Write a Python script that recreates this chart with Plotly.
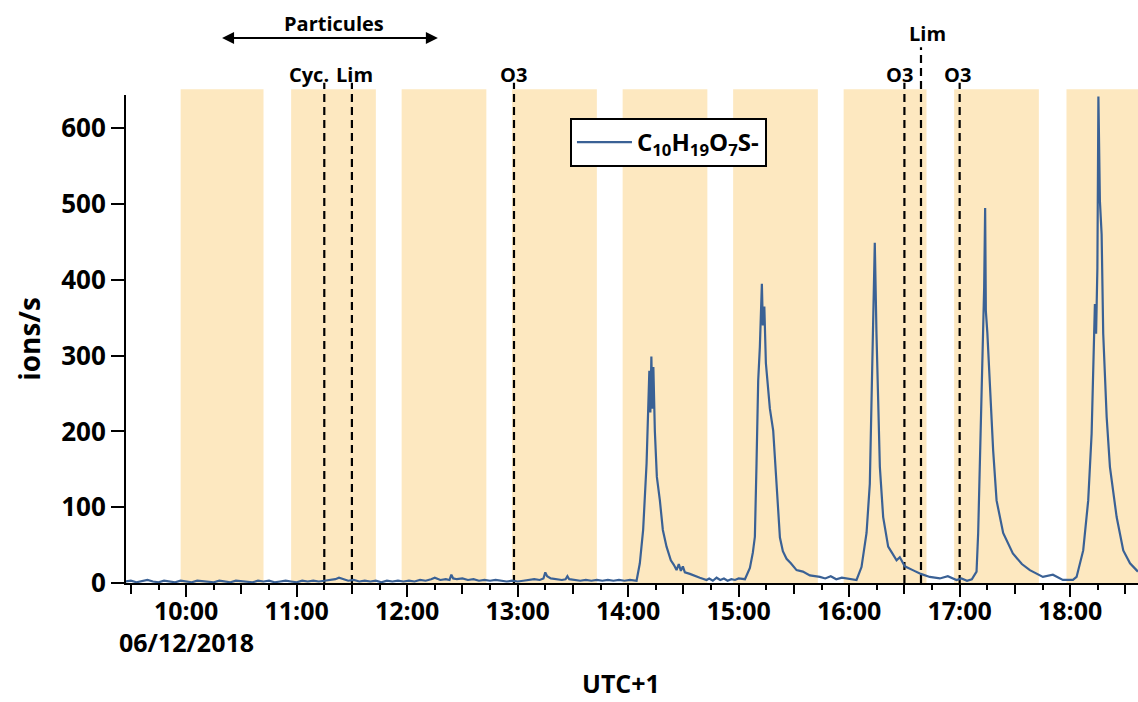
import plotly.graph_objects as go

DAY = "2018-12-06 "

# baseline before the first ozonolysis peak
base_clock = ["09:27", "09:30", "09:33", "09:36", "09:39", "09:42", "09:45", "09:48", "09:51", "09:54",
              "09:57", "10:00", "10:03", "10:06", "10:09", "10:12", "10:15", "10:18", "10:21", "10:24",
              "10:27", "10:30", "10:33", "10:36", "10:39", "10:42", "10:45", "10:48", "10:51", "10:54",
              "10:57", "11:00", "11:03", "11:06", "11:09", "11:12", "11:15", "11:18", "11:21", "11:23",
              "11:25", "11:28", "11:31", "11:34", "11:37", "11:40", "11:43", "11:46", "11:49", "11:52",
              "11:55", "11:58", "12:01", "12:04", "12:07", "12:10", "12:13", "12:15", "12:18", "12:21",
              "12:23", "12:24", "12:25", "12:27", "12:30", "12:33", "12:36", "12:39", "12:42", "12:45",
              "12:48", "12:51", "12:54", "12:57", "13:00", "13:03", "13:06", "13:09", "13:12", "13:14",
              "13:15", "13:16", "13:18", "13:21", "13:24", "13:26", "13:27", "13:28", "13:31", "13:34",
              "13:37", "13:40", "13:43", "13:46", "13:49", "13:52", "13:55", "13:58", "14:01", "14:03"]
base_ions = [2, 3, 1, 2, 4, 2, 1, 3, 2, 1,
             3, 2, 1, 3, 2, 2, 1, 3, 2, 1,
             3, 2, 2, 1, 3, 2, 3, 1, 2, 3,
             2, 1, 3, 2, 3, 2, 3, 4, 5, 7,
             5, 3, 4, 2, 3, 2, 3, 1, 3, 2,
             3, 2, 3, 2, 4, 3, 5, 7, 4, 5,
             4, 11, 6, 5, 6, 4, 5, 3, 4, 3,
             4, 3, 2, 3, 2, 3, 4, 5, 4, 6,
             14, 9, 6, 5, 4, 5, 9, 5, 4, 3,
             4, 3, 4, 3, 4, 3, 4, 3, 4, 3]

peak1_clock = ["14:04:34", "14:06:20", "14:08:08", "14:10:00", "14:10:51", "14:11:30", "14:12:03",
               "14:12:36", "14:13:08", "14:13:41", "14:14:30", "14:15:35", "14:17:13", "14:18:50",
               "14:20:50", "14:23:10", "14:24:48", "14:26:16", "14:27:30", "14:28:36", "14:29:42",
               "14:30:47", "14:33:30", "14:36:12", "14:38:55", "14:42:34", "14:44:00", "14:46:00",
               "14:48:00", "14:50:00", "14:52:00", "14:54:00", "14:56:00", "14:58:00", "15:00:00"]
peak1_ions = [3, 26, 70, 158, 245, 280, 225,
              299, 230, 285, 200, 140, 109, 70,
              48, 30, 24, 17, 25, 16, 22,
              14, 12, 9, 7, 4, 6, 3,
              7, 4, 6, 3, 5, 4, 6]

peak2_clock = ["15:03:24", "15:06:06", "15:07:42", "15:08:48", "15:09:42", "15:10:36", "15:11:30",
               "15:12:03", "15:12:36", "15:13:08", "15:13:56", "15:14:47", "15:15:52", "15:16:57",
               "15:18:45", "15:20:36", "15:22:24", "15:24:00", "15:26:00", "15:28:20", "15:31:26",
               "15:34:52", "15:38:40", "15:44:06", "15:47:00", "15:50:00", "15:53:00", "15:56:00",
               "15:59:00", "16:02:00"]
peak2_ions = [5, 20, 40, 61, 158, 267, 311,
              350, 395, 340, 365, 290, 260, 230,
              201, 135, 60, 42, 32, 26, 17,
              15, 10, 8, 6, 9, 5, 7,
              6, 5]

peak3_clock = ["16:04:00", "16:06:42", "16:09:26", "16:11:13", "16:12:08", "16:13:00", "16:13:55",
               "16:14:50", "16:15:44", "16:16:40", "16:18:28", "16:21:11", "16:23:12", "16:25:44",
               "16:27:30", "16:30:13", "16:34:34", "16:38:55", "16:43:47", "16:49:14", "16:53:34",
               "16:58:18", "17:01:00", "17:04:00"]
peak3_ions = [4, 21, 66, 131, 241, 372, 449,
              329, 219, 153, 87, 48, 40, 30,
              34, 22, 17, 12, 8, 6, 9,
              4, 6, 3]

peak4_clock = ["17:06:36", "17:09:10", "17:10:03", "17:10:58", "17:11:53", "17:12:45", "17:13:18",
               "17:13:50", "17:14:13", "17:15:02", "17:16:24", "17:18:11", "17:20:02", "17:23:37",
               "17:28:53", "17:33:46", "17:38:07", "17:45:12", "17:50:38", "17:56:02", "18:01:30"]
peak4_ions = [5, 15, 66, 153, 263, 350, 390,
              495, 359, 330, 263, 175, 109, 66,
              39, 25, 17, 8, 11, 4, 4]

peak5_clock = ["18:03:29", "18:07:05", "18:09:48", "18:11:39", "18:12:53", "18:13:26", "18:14:05",
               "18:14:47", "18:15:20", "18:16:09", "18:17:05", "18:17:57", "18:19:49", "18:21:36",
               "18:25:14", "18:28:50", "18:32:30", "18:34:38", "18:36:48"]
peak5_ions = [8, 43, 109, 197, 307, 368, 329,
              416, 642, 504, 460, 329, 219, 153,
              87, 43, 26, 20, 15]

# light-on periods (shaded)
band_start = ["09:57", "10:57", "11:57", "12:57", "13:57", "14:57", "15:57", "16:57", "17:58"]
band_end = ["10:42", "11:43", "12:43", "13:43", "14:43", "15:43", "16:42", "17:43", "18:37"]

# injections (dashed lines)
event_clock = ["11:15", "11:30", "12:58", "16:30", "16:39", "17:00"]
event_label = ["Cyc.", "Lim", "O3", "O3", "Lim", "O3"]
label_clock = ["11:06:40", "11:31:30", "12:58:00", "16:27:30", "16:42:30", "16:58:48"]

particle_start = "10:18:40"
particle_end = "12:16:40"

hour_ticks = ["10:00", "11:00", "12:00", "13:00", "14:00", "15:00", "16:00", "17:00", "18:00"]
date_label = "06/12/2018"

clock = base_clock + peak1_clock + peak2_clock + peak3_clock + peak4_clock + peak5_clock
ions = base_ions + peak1_ions + peak2_ions + peak3_ions + peak4_ions + peak5_ions

BOLD = dict(family="Open Sans", weight="bold", color="black")
x_range = [DAY + "09:27:20", DAY + "18:36:50"]

fig = go.Figure()
fig.add_trace(
    go.Scatter(
        x=[DAY + c for c in clock],
        y=ions,
        mode="lines",
        name="C<sub>10</sub>H<sub>19</sub>O<sub>7</sub>S-",
        line=dict(color="#3A6195", width=2.2),
    )
)
# carrier for the 15 min tick marks
fig.add_trace(go.Scatter(x=x_range, y=[None, None], xaxis="x2", showlegend=False, hoverinfo="skip"))

for s, e in zip(band_start, band_end):
    fig.add_shape(type="rect", xref="x", yref="paper", x0=DAY + s, x1=DAY + e, y0=0, y1=1.012,
                  fillcolor="#FDE8C0", line_width=0, layer="below")

for c, lab in zip(event_clock, event_label):
    top = 1.098 if (lab == "Lim" and c > "16:00") else 1.025
    fig.add_shape(type="line", xref="x", yref="paper", x0=DAY + c, x1=DAY + c, y0=0, y1=top,
                  line=dict(color="black", width=2.2, dash="8px,5px"), layer="below")

for c, lab in zip(label_clock, event_label):
    yy = 1.127 if (lab == "Lim" and c > "16:00") else 1.043
    fig.add_annotation(x=DAY + c, y=yy, xref="x", yref="paper", text=lab, showarrow=False,
                       font=dict(BOLD, size=20), xanchor="center", yanchor="middle")

fig.add_annotation(x=DAY + "11:20:12", y=1.1455, xref="x", yref="paper", text="Particules",
                   showarrow=False, font=dict(BOLD, size=20), yanchor="middle")
fig.add_annotation(x=DAY + particle_end, y=1.1168, xref="x", yref="paper", text="",
                   showarrow=True, axref="x", ax=DAY + particle_start, ayref="pixel", ay=0,
                   arrowhead=2, arrowside="end+start", arrowsize=1.2, arrowwidth=2, arrowcolor="black")

# date under the first hour label, and the axis title
fig.add_annotation(x=DAY + hour_ticks[0], y=-0.12, xref="x", yref="paper", text=date_label,
                   showarrow=False, font=dict(BOLD, size=25), xanchor="center", yanchor="middle")
fig.add_annotation(x=0.489, y=-0.205, xref="paper", yref="paper", text="UTC+1",
                   showarrow=False, font=dict(BOLD, size=25), xanchor="center", yanchor="middle")

fig.update_layout(
    width=1138,
    height=702,
    margin=dict(l=126, r=0, t=95, b=119),
    paper_bgcolor="white",
    plot_bgcolor="white",
    font=BOLD,
    showlegend=True,
    legend=dict(
        x=0.4387, y=0.953, xanchor="left", yanchor="top",
        bgcolor="white", bordercolor="black", borderwidth=2,
        font=dict(BOLD, size=24), itemwidth=55,
    ),
    xaxis=dict(
        type="date",
        range=x_range,
        tickmode="array",
        tickvals=[DAY + t for t in hour_ticks],
        ticktext=hour_ticks,
        ticks="outside", ticklen=12, tickwidth=2, tickcolor="black",
        minor=dict(dtick=30 * 60 * 1000, tick0=DAY + "09:30", ticks="outside", ticklen=9,
                   tickwidth=2, tickcolor="black", showgrid=False),
        showline=True, linewidth=2, linecolor="black",
        showgrid=False, zeroline=False,
        tickfont=dict(BOLD, size=25),
        ticklabelstandoff=-7,
    ),
    xaxis2=dict(
        type="date", overlaying="x", matches="x", range=x_range, anchor="y", side="bottom",
        dtick=15 * 60 * 1000, tick0=DAY + "09:30", ticks="outside", ticklen=6, tickwidth=2,
        tickcolor="black", showticklabels=False, showline=False, showgrid=False, zeroline=False,
    ),
    yaxis=dict(
        range=[0, 644],
        tickvals=[0, 100, 200, 300, 400, 500, 600],
        ticks="outside", ticklen=13, tickwidth=2, tickcolor="black",
        showline=True, linewidth=2, linecolor="black",
        showgrid=False, zeroline=False,
        tickfont=dict(BOLD, size=26),
        title=dict(text="ions/s", font=dict(BOLD, size=28), standoff=12),
    ),
)

fig.write_html("out.html", config={"displayModeBar": False},
               post_script="document.body.style.margin='0';")
